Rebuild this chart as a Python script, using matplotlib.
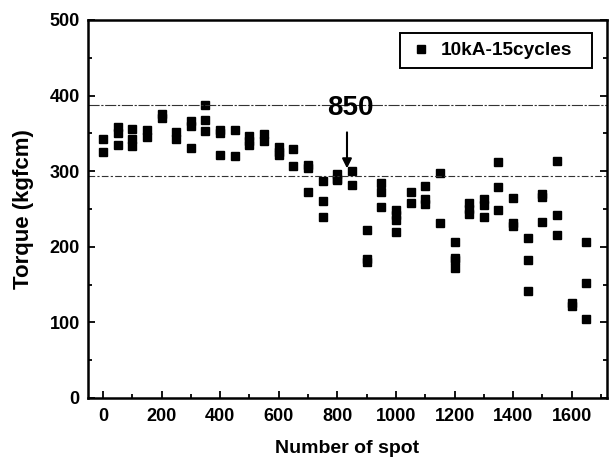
import matplotlib.pyplot as plt
from matplotlib.patches import Rectangle
import numpy as np

plt.rcParams['font.family'] = ['Liberation Sans', 'DejaVu Sans']
plt.rcParams['font.weight'] = 'bold'

spots = [0, 50, 100, 150, 200, 250, 300, 350, 400, 450, 500, 550, 600, 650,
         700, 750, 800, 850, 900, 950, 1000, 1050, 1100, 1150, 1200, 1250,
         1300, 1350, 1400, 1450, 1500, 1550, 1600, 1650]
torque = [
    [343, 325],
    [358, 350, 335],
    [356, 343, 333],
    [355, 345],
    [376, 370],
    [352, 342],
    [366, 360, 330],
    [388, 368, 353],
    [355, 350, 322],
    [355, 320],
    [347, 340, 335],
    [349, 340],
    [332, 325, 321],
    [329, 307],
    [308, 304, 272],
    [287, 260, 239],
    [296, 290, 288],
    [300, 282],
    [222, 184, 180],
    [285, 272, 253],
    [248, 242, 236, 220],
    [272, 258],
    [280, 263, 257],
    [298, 231],
    [206, 185, 182, 172],
    [258, 250, 243],
    [263, 255, 240],
    [312, 279, 248],
    [265, 232, 227],
    [212, 183, 142],
    [270, 266, 233],
    [313, 242, 216],
    [125, 122],
    [206, 152, 104],
]
upper_limit = 388
lower_limit = 293
marked_spot = 850

xs = np.concatenate([[s] * len(t) for s, t in zip(spots, torque)])
ys = np.concatenate(torque)

fig = plt.figure(figsize=(6.09, 4.61), dpi=100)
ax = fig.add_axes([0.1445, 0.1367, 0.852, 0.82])

ax.plot(xs, ys, 's', color='black', markersize=6.3, label='10kA-15cycles')
ax.axhline(upper_limit, color='#333333', lw=0.8, ls=(0, (10, 1.5, 2, 1.5)))
ax.axhline(lower_limit, color='#333333', lw=0.8, ls=(0, (6, 2, 2, 2)))

# arrow marking spot 850
ax.annotate('', xy=(833, 300), xytext=(833, 355),
            arrowprops=dict(arrowstyle='-|>', lw=1.5, color='black', mutation_scale=14))
ax.text(845, 367, str(marked_spot), ha='center', va='bottom', fontsize=20, fontweight='bold')

ax.set_xlim(-51, 1720)
ax.set_ylim(0, 500)
ax.set_xticks(np.arange(0, 1601, 200))
ax.set_xticks(np.arange(100, 1701, 200), minor=True)
ax.set_yticks(np.arange(0, 501, 100))
ax.set_yticks(np.arange(50, 500, 100), minor=True)
ax.tick_params(which='both', direction='in', right=True, labelsize=13, width=1.3)
ax.tick_params(axis='x', pad=7)
ax.tick_params(axis='y', pad=6)
ax.tick_params(which='major', length=5)
ax.tick_params(which='minor', length=3)
for s in ax.spines.values():
    s.set_linewidth(1.8)

ax.set_xlabel('Number of spot', fontsize=14, fontweight='bold', labelpad=11)
ax.set_ylabel('Torque (kgfcm)', fontsize=16, fontweight='bold', labelpad=11)

leg = ax.legend(loc='center left', bbox_to_anchor=(0.624, 0.919), frameon=False,
                handlelength=1.0, handletextpad=0.5, borderpad=0, borderaxespad=0,
                prop={'weight': 'bold', 'size': 13.7})
ax.add_patch(Rectangle((0.601, 0.873), 0.37, 0.093, transform=ax.transAxes,
                       fill=False, edgecolor='black', lw=1.4, zorder=5))

fig.savefig('out.png', dpi=100)
